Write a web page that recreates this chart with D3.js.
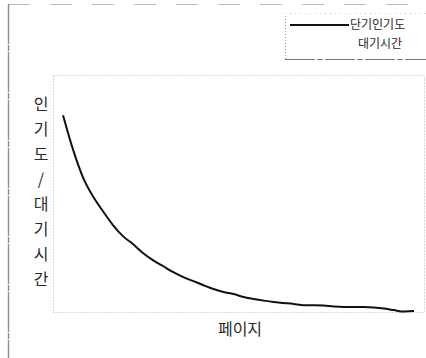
<!DOCTYPE html>
<html>
<head>
<meta charset="utf-8">
<script src="https://cdn.jsdelivr.net/npm/d3@7"></script>
<style>
  html, body { margin: 0; padding: 0; background: #fff; }
  svg { display: block; }
  text { font-family: "Noto Sans CJK KR", "Noto Sans", sans-serif; fill: #2a2a2a; }
</style>
</head>
<body>
<script>
// Page index and short-term popularity along the page sequence
const pages = [1,2,3,4,5,6,7,8,9,10,11,12,13,14,15,16,17,18,19,20,21,22,23,24,25,26,27,28,29,30,31,32,33,34,35,36];
const popularity = [83,68.5,56.7,48.7,42.4,36.6,31.9,28.6,24.8,21.8,19.3,16.8,14.7,13.0,11.3,9.7,8.4,7.6,6.3,5.5,4.8,4.2,3.8,3.4,2.9,2.9,2.7,2.3,2.1,2.1,2.1,1.9,1.5,0.8,0.2,0.4];
const seriesNames = ["단기인기도", "대기시간"];
const yTitle = ["인", "기", "도", "/", "대", "기", "시", "간"];
const xTitle = "페이지";

const W = 426, H = 358;
const plot = { left: 53, top: 75, right: 424, bottom: 312 };

const svg = d3.select("body").append("svg").attr("width", W).attr("height", H);

// outer chart frame
svg.append("line").attr("x1", 8).attr("x2", W).attr("y1", 4.5).attr("y2", 4.5)
  .attr("stroke", "#bbb").attr("stroke-width", 1).attr("stroke-dasharray", "22,20");
svg.append("line").attr("x1", 8.5).attr("x2", 8.5).attr("y1", 4).attr("y2", H)
  .attr("stroke", "#8a8a8a").attr("stroke-width", 1.4).attr("stroke-dasharray", "40,1,6,1");

// plot area frame
svg.append("rect")
  .attr("x", plot.left + 0.5).attr("y", plot.top + 0.5)
  .attr("width", plot.right - plot.left).attr("height", plot.bottom - plot.top)
  .attr("fill", "none").attr("stroke", "#b5b5b5").attr("stroke-width", 1)
  .attr("stroke-dasharray", "1,2");

const x = d3.scaleLinear().domain([0, 37]).range([plot.left, plot.right]);
const y = d3.scaleLinear().domain([0, 100]).range([plot.bottom, plot.top]);

const data = pages.map((p, i) => ({ p, v: popularity[i] }));
svg.append("path")
  .datum(data)
  .attr("fill", "none")
  .attr("stroke", "#111")
  .attr("stroke-width", 2)
  .attr("stroke-linejoin", "round")
  .attr("d", d3.line().x(d => x(d.p)).y(d => y(d.v)).curve(d3.curveMonotoneX));

// vertical stacked y title
const yt = svg.append("g");
yTitle.forEach((ch, i) => {
  yt.append("text")
    .attr("x", 41).attr("y", 110 + i * 25)
    .attr("text-anchor", "middle")
    .attr("font-size", 16)
    .text(ch);
});

// x title
svg.append("text")
  .attr("x", 240).attr("y", 335)
  .attr("text-anchor", "middle")
  .attr("font-size", 16)
  .text(xTitle);

// legend
const lg = svg.append("g");
lg.append("line").attr("x1", 285.5).attr("x2", 285.5).attr("y1", 13).attr("y2", 59)
  .attr("stroke", "#999").attr("stroke-dasharray", "1,2");
lg.append("line").attr("x1", 285).attr("x2", W).attr("y1", 13.5).attr("y2", 13.5)
  .attr("stroke", "#ccc").attr("stroke-dasharray", "1,4");
lg.append("line").attr("x1", 285).attr("x2", W).attr("y1", 59.5).attr("y2", 59.5)
  .attr("stroke", "#777").attr("stroke-dasharray", "30,2,6,2");
lg.append("line").attr("x1", 290).attr("x2", 349).attr("y1", 25).attr("y2", 25)
  .attr("stroke", "#111").attr("stroke-width", 2);
lg.append("text").attr("x", 350).attr("y", 29).attr("font-size", 12).text(seriesNames[0]);
lg.append("text").attr("x", 358).attr("y", 48).attr("font-size", 12).text(seriesNames[1]);
</script>
</body>
</html>
